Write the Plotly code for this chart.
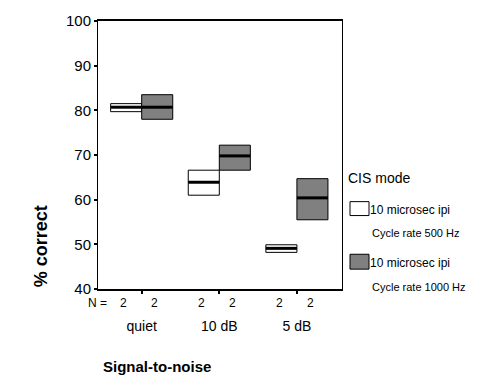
import plotly.graph_objects as go

categories = ["quiet", "10 dB", "5 dB"]
series_names = ["10 microsec ipi<br>Cycle rate 500 Hz", "10 microsec ipi<br>Cycle rate 1000 Hz"]
n_counts = [[2, 2, 2], [2, 2, 2]]
# box statistics per series: q1, median, q3
q1_500 = [79.7, 61.0, 48.2]
med_500 = [80.7, 63.9, 49.1]
q3_500 = [81.5, 66.6, 49.9]
q1_1000 = [78.0, 66.6, 55.5]
med_1000 = [80.7, 69.8, 60.4]
q3_1000 = [83.5, 72.2, 64.7]
y_ticks = [40, 50, 60, 70, 80, 90, 100]

FONT = "Arial, Liberation Sans, sans-serif"
colors = ["white", "#808080"]
box_w = 0.4
offsets = [-box_w / 2, box_w / 2]
X0, X1 = -0.563, 2.581

def px(xp):
    return (xp - 98) / 244

def py(yp):
    return (289 - yp) / 270

def xdata_to_paper(x):
    return (x - X0) / (X1 - X0)

fig = go.Figure()
stats = [(q1_500, med_500, q3_500), (q1_1000, med_1000, q3_1000)]
for s, (q1, med, q3) in enumerate(stats):
    xs = [i + offsets[s] for i in range(len(categories))]
    fig.add_trace(go.Bar(
        x=xs, base=q1, y=[b - a for a, b in zip(q1, q3)], width=box_w,
        marker=dict(color=colors[s], line=dict(color="black", width=1)),
        showlegend=False, hoverinfo="skip"))
    mx, my = [], []
    for x, m in zip(xs, med):
        mx += [x - box_w / 2, x + box_w / 2, None]
        my += [m, m, None]
    fig.add_trace(go.Scatter(x=mx, y=my, mode="lines",
                             line=dict(color="black", width=3),
                             showlegend=False, hoverinfo="skip"))

def ann(x, y, text, size, xanchor="center", angle=0):
    fig.add_annotation(x=x, y=y, xref="paper", yref="paper", text=text,
                       showarrow=False, xanchor=xanchor, yanchor="middle",
                       textangle=angle,
                       font=dict(family=FONT, size=size, color="black"))

# N row
ann(px(97), py(303), "N =", 12)
for s in range(2):
    for i, n in enumerate(n_counts[s]):
        ann(xdata_to_paper(i + offsets[s] - 0.03), py(303), str(n), 12)

ann(px(157), py(367), "<b>Signal-to-noise</b>", 15)
ann(px(41), py(246), "<b>% correct</b>", 18, angle=-90)

# Legend (manual)
ann(px(346), py(177), "CIS mode", 14, xanchor="left")
legend_rows = [(201, 215, 209, 233), (254, 269, 263, 287)]
for s, (t, b, ty1, ty2) in enumerate(legend_rows):
    fig.add_shape(type="rect", xref="paper", yref="paper",
                  x0=px(350), x1=px(369), y0=py(b), y1=py(t),
                  fillcolor=colors[s], line=dict(color="black", width=1))
    l1, l2 = series_names[s].split("<br>")
    ann(px(368), py(ty1), l1, 12, xanchor="left")
    ann(px(370), py(ty2), l2, 11, xanchor="left")

fig.update_layout(
    width=496, height=382,
    margin=dict(l=98, r=154, t=19, b=93),
    plot_bgcolor="white", paper_bgcolor="white",
    barmode="overlay", showlegend=False,
    font=dict(family=FONT, color="black"),
    xaxis=dict(range=[X0, X1], tickvals=[0, 1, 2], ticktext=categories,
               ticks="outside", ticklen=3, tickwidth=2, tickcolor="black",
               showgrid=False, zeroline=False, showline=True, linecolor="black",
               linewidth=2, mirror=True, ticklabelstandoff=20,
               tickfont=dict(family=FONT, size=14, color="black")),
    yaxis=dict(range=[40, 100], tickvals=y_ticks, ticks="outside", ticklen=3,
               tickwidth=2, tickcolor="black", showgrid=False, zeroline=False,
               showline=True, linecolor="black", linewidth=1, mirror=True,
               tickfont=dict(family=FONT, size=15, color="black")),
)
fig.write_html("out.html", config={"displayModeBar": False},
               post_script="document.body.style.margin='0';")
